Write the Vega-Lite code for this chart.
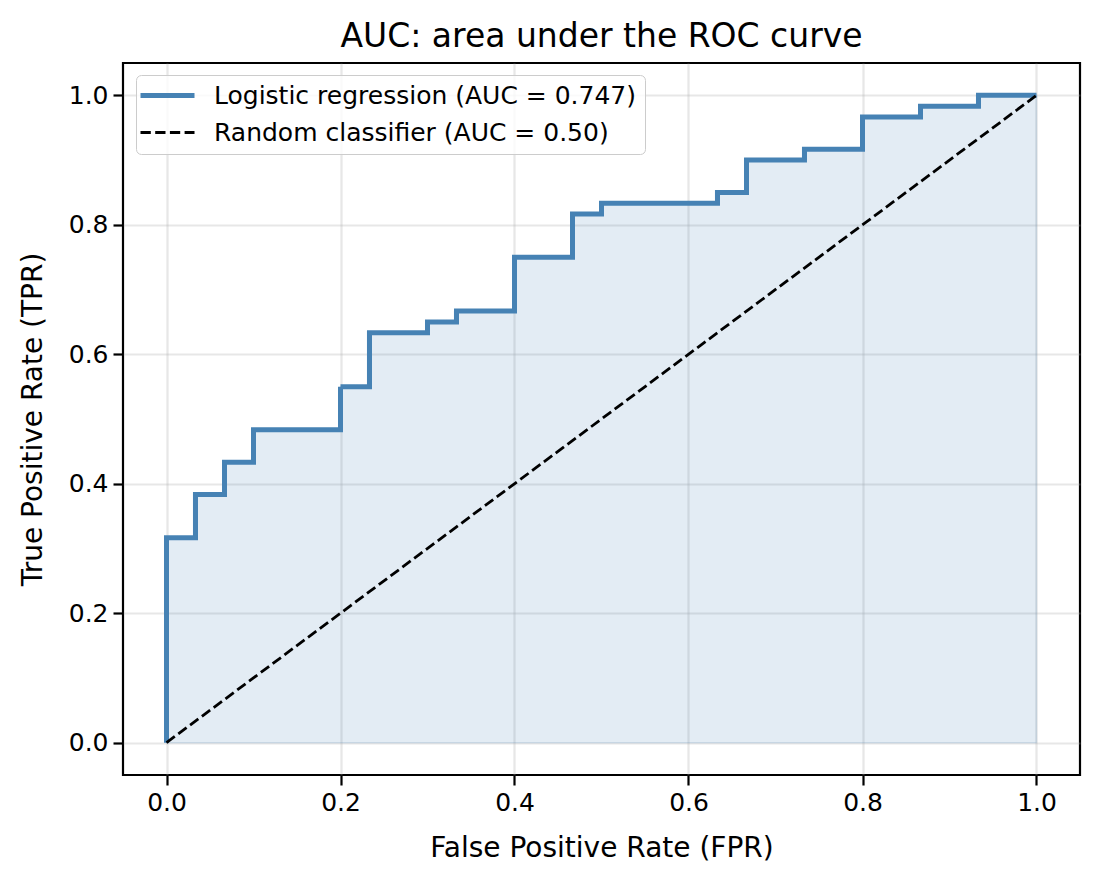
{
  "$schema": "https://vega.github.io/schema/vega-lite/v6.json",
  "width": 957,
  "height": 712,
  "autosize": {"type": "none"},
  "padding": {"left": 123, "top": 63, "right": 19, "bottom": 107},
  "background": "white",
  "title": {"text": "AUC: area under the ROC curve", "fontSize": 33, "fontWeight": "normal", "color": "black", "anchor": "middle", "frame": "group", "offset": 9, "font": "DejaVu Sans"},
  "config": {
    "font": "DejaVu Sans",
    "view": {"stroke": "black", "strokeWidth": 2.2},
    "axis": {"domain": false, "tickColor": "black", "tickWidth": 2.2, "tickSize": 10, "labelColor": "black", "labelFontSize": 25, "labelPadding": 5, "titleFontSize": 28, "titleFontWeight": "normal", "titleColor": "black", "gridColor": "#b0b0b0", "gridOpacity": 0.3, "gridWidth": 2.2, "labelFont": "DejaVu Sans", "titleFont": "DejaVu Sans"}
  },
  "datasets": {
    "roc": [
      {"i": 0, "fpr": 0.0, "tpr": 0.0},
      {"i": 1, "fpr": 0.0, "tpr": 0.3167},
      {"i": 2, "fpr": 0.0333, "tpr": 0.3167},
      {"i": 3, "fpr": 0.0333, "tpr": 0.3833},
      {"i": 4, "fpr": 0.0667, "tpr": 0.3833},
      {"i": 5, "fpr": 0.0667, "tpr": 0.4333},
      {"i": 6, "fpr": 0.1, "tpr": 0.4333},
      {"i": 7, "fpr": 0.1, "tpr": 0.4833},
      {"i": 8, "fpr": 0.2, "tpr": 0.4833},
      {"i": 9, "fpr": 0.2, "tpr": 0.55},
      {"i": 10, "fpr": 0.2333, "tpr": 0.55},
      {"i": 11, "fpr": 0.2333, "tpr": 0.6333},
      {"i": 12, "fpr": 0.3, "tpr": 0.6333},
      {"i": 13, "fpr": 0.3, "tpr": 0.65},
      {"i": 14, "fpr": 0.3333, "tpr": 0.65},
      {"i": 15, "fpr": 0.3333, "tpr": 0.6667},
      {"i": 16, "fpr": 0.4, "tpr": 0.6667},
      {"i": 17, "fpr": 0.4, "tpr": 0.75},
      {"i": 18, "fpr": 0.4667, "tpr": 0.75},
      {"i": 19, "fpr": 0.4667, "tpr": 0.8167},
      {"i": 20, "fpr": 0.5, "tpr": 0.8167},
      {"i": 21, "fpr": 0.5, "tpr": 0.8333},
      {"i": 22, "fpr": 0.6333, "tpr": 0.8333},
      {"i": 23, "fpr": 0.6333, "tpr": 0.85},
      {"i": 24, "fpr": 0.6667, "tpr": 0.85},
      {"i": 25, "fpr": 0.6667, "tpr": 0.9},
      {"i": 26, "fpr": 0.7333, "tpr": 0.9},
      {"i": 27, "fpr": 0.7333, "tpr": 0.9167},
      {"i": 28, "fpr": 0.8, "tpr": 0.9167},
      {"i": 29, "fpr": 0.8, "tpr": 0.9667},
      {"i": 30, "fpr": 0.8667, "tpr": 0.9667},
      {"i": 31, "fpr": 0.8667, "tpr": 0.9833},
      {"i": 32, "fpr": 0.9333, "tpr": 0.9833},
      {"i": 33, "fpr": 0.9333, "tpr": 1.0},
      {"i": 34, "fpr": 1.0, "tpr": 1.0}
    ],
    "diag": [
      {"i": 0, "fpr": 0.0, "tpr": 0.0},
      {"i": 1, "fpr": 1.0, "tpr": 1.0}
    ]
  },
  "layer": [
    {
      "data": {"name": "roc"},
      "mark": {"type": "area", "fill": "#4682b4", "fillOpacity": 0.15, "stroke": "#4682b4", "strokeOpacity": 0.15, "strokeWidth": 1.5, "orient": "vertical"},
      "encoding": {
        "x": {"field": "fpr", "type": "quantitative", "scale": {"domain": [-0.05, 1.05], "nice": false, "zero": false}, "axis": {"values": [0, 0.2, 0.4, 0.6, 0.8, 1.0], "format": ".1f", "title": "False Positive Rate (FPR)", "titlePadding": 19}},
        "y": {"field": "tpr", "type": "quantitative", "stack": null, "scale": {"domain": [-0.05, 1.05], "nice": false, "zero": false}, "axis": {"values": [0, 0.2, 0.4, 0.6, 0.8, 1.0], "format": ".1f", "title": "True Positive Rate (TPR)", "titlePadding": 21}},
        "y2": {"datum": 0}
      }
    },
    {
      "data": {"name": "roc"},
      "transform": [{"calculate": "'Logistic regression (AUC = 0.747)'", "as": "series"}],
      "mark": {"type": "line", "strokeWidth": 5, "strokeJoin": "miter", "strokeCap": "butt"},
      "encoding": {
        "x": {"field": "fpr", "type": "quantitative"},
        "y": {"field": "tpr", "type": "quantitative"},
        "order": {"field": "i", "type": "quantitative"},
        "color": {"field": "series", "type": "nominal", "scale": {"domain": ["Logistic regression (AUC = 0.747)", "Random classifier (AUC = 0.50)"], "range": ["#4682b4", "black"]}, "legend": {"title": null, "orient": "none", "legendX": 13, "legendY": 12, "symbolType": "stroke", "symbolSize": 2916, "symbolOffset": 11, "labelFontSize": 25, "labelColor": "black", "labelOffset": 34, "labelLimit": 0, "rowPadding": 11, "padding": 8, "strokeColor": "#cccccc", "fillColor": "rgba(255,255,255,0.8)", "cornerRadius": 5, "symbolStrokeWidth": 5, "encode": {"symbols": {"update": {"strokeWidth": {"signal": "datum.value === 'Logistic regression (AUC = 0.747)' ? 5 : 2.8"}}}}}},
        "strokeDash": {"field": "series", "type": "nominal", "scale": {"domain": ["Logistic regression (AUC = 0.747)", "Random classifier (AUC = 0.50)"], "range": [[1, 0], [10.3, 4.4]]}}
      }
    },
    {
      "data": {"name": "diag"},
      "transform": [{"calculate": "'Random classifier (AUC = 0.50)'", "as": "series"}],
      "mark": {"type": "line", "strokeWidth": 2.8},
      "encoding": {
        "x": {"field": "fpr", "type": "quantitative"},
        "y": {"field": "tpr", "type": "quantitative"},
        "order": {"field": "i", "type": "quantitative"},
        "color": {"field": "series", "type": "nominal"},
        "strokeDash": {"field": "series", "type": "nominal"}
      }
    }
  ]
}
